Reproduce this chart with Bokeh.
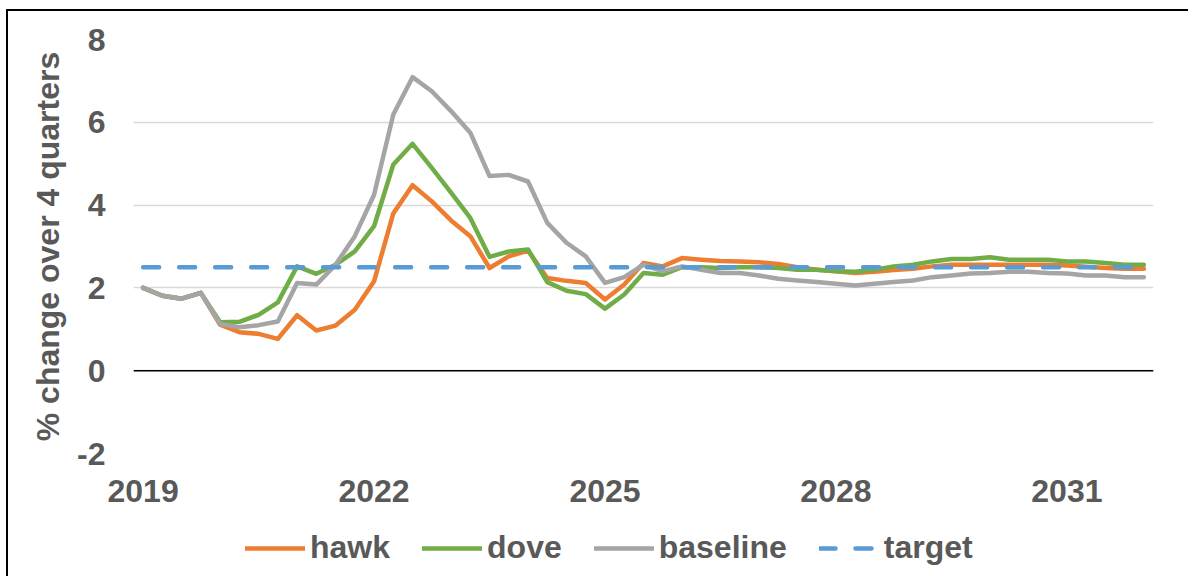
from bokeh.plotting import figure
from bokeh.layouts import column
from bokeh.models import Span, Legend, LegendItem, FixedTicker, ColumnDataSource, Range1d
from bokeh.embed import file_html
from bokeh.resources import INLINE

# ---------------- data ----------------
quarters = [f"{y}Q{q}" for y in range(2019, 2033) for q in range(1, 5)][:53]

hawk = [2.00, 1.81, 1.74, 1.88, 1.11, 0.93, 0.89, 0.77, 1.34, 0.97,
        1.09, 1.47, 2.16, 3.80, 4.48, 4.09, 3.63, 3.25, 2.48, 2.76,
        2.90, 2.24, 2.17, 2.12, 1.72, 2.08, 2.60, 2.52, 2.72, 2.68,
        2.65, 2.64, 2.62, 2.58, 2.50, 2.44, 2.40, 2.36, 2.39, 2.43,
        2.46, 2.52, 2.56, 2.56, 2.56, 2.56, 2.56, 2.56, 2.54, 2.51,
        2.48, 2.46, 2.46]

dove = [2.00, 1.81, 1.74, 1.88, 1.17, 1.18, 1.35, 1.65, 2.52, 2.34,
        2.56, 2.88, 3.49, 4.98, 5.48, 4.90, 4.30, 3.69, 2.75, 2.88,
        2.93, 2.14, 1.93, 1.85, 1.50, 1.84, 2.36, 2.32, 2.50, 2.50,
        2.48, 2.50, 2.50, 2.48, 2.44, 2.44, 2.40, 2.39, 2.44, 2.52,
        2.56, 2.64, 2.70, 2.70, 2.74, 2.68, 2.68, 2.68, 2.64, 2.64,
        2.60, 2.56, 2.56]

baseline = [2.00, 1.81, 1.74, 1.88, 1.13, 1.05, 1.10, 1.19, 2.12, 2.08,
            2.56, 3.25, 4.25, 6.19, 7.09, 6.75, 6.27, 5.75, 4.70, 4.73,
            4.57, 3.57, 3.09, 2.76, 2.12, 2.26, 2.56, 2.40, 2.52, 2.44,
            2.36, 2.36, 2.30, 2.22, 2.18, 2.14, 2.10, 2.06, 2.10, 2.14,
            2.18, 2.26, 2.30, 2.35, 2.36, 2.39, 2.39, 2.36, 2.35, 2.30,
            2.30, 2.26, 2.26]

target_value = 2.5
target = [target_value] * len(quarters)

series_names = ["hawk", "dove", "baseline", "target"]
series_colors = ["#ED7D31", "#70AD47", "#A5A5A5", "#5B9BD5"]

x_tick_labels = ["2019", "2022", "2025", "2028", "2031"]
y_ticks = [-2, 0, 2, 4, 6, 8]

# ---------------- styling ----------------
FONT = "Liberation Sans"
TXT = "#595959"
FS = "32px"
LW = 4.5
DASH = "16 20"

idx = list(range(len(quarters)))
src = ColumnDataSource(dict(x=idx, quarter=quarters, hawk=hawk, dove=dove,
                            baseline=baseline, target=target))

p = figure(width=1180, height=507, frame_width=1020, frame_height=414,
           output_backend="svg", toolbar_location=None,
           x_range=(-0.5, len(quarters) - 0.5), y_range=(-2, 8))
p.min_border_left = 125
p.min_border_right = 35
p.min_border_top = 28
p.min_border_bottom = 65
p.outline_line_color = None
p.background_fill_color = "white"
p.border_fill_color = "white"

# axes
x_tick_pos = [quarters.index(f"{t}Q1") for t in x_tick_labels]
p.xaxis.ticker = FixedTicker(ticks=x_tick_pos)
p.xaxis.major_label_overrides = {pos: lab for pos, lab in zip(x_tick_pos, x_tick_labels)}
p.yaxis.ticker = FixedTicker(ticks=y_ticks)
p.yaxis.major_label_overrides = {v: str(v) for v in y_ticks}

for ax in (p.xaxis[0], p.yaxis[0]):
    ax.axis_line_color = None
    ax.major_tick_line_color = None
    ax.minor_tick_line_color = None
    ax.major_label_text_font = FONT
    ax.major_label_text_font_size = FS
    ax.major_label_text_font_style = "bold"
    ax.major_label_text_color = TXT

p.xaxis.major_label_standoff = 20
p.yaxis.major_label_standoff = 22
p.yaxis.axis_label = "% change over 4 quarters"
p.yaxis.axis_label_text_font = FONT
p.yaxis.axis_label_text_font_size = FS
p.yaxis.axis_label_text_font_style = "bold"
p.yaxis.axis_label_text_color = TXT
p.yaxis.axis_label_standoff = 8

p.xgrid.grid_line_color = None
p.ygrid.grid_line_color = "#d9d9d9"
p.ygrid.grid_line_width = 1.5

p.add_layout(Span(location=0, dimension="width", line_color="black", line_width=1.5))

for name, color in zip(series_names, series_colors):
    kw = dict(line_dash=DASH) if name == "target" else dict(line_join="round")
    p.line("x", name, source=src, line_color=color, line_width=LW,
           line_cap="round", **kw)

# ---------------- legend strip ----------------
# same series drawn into a strip whose y-range excludes them: only the legend shows
lg = figure(width=1180, height=58, output_backend="svg", toolbar_location=None,
            x_range=Range1d(0, 1), y_range=Range1d(-20, -19))
lg.min_border_left = lg.min_border_right = lg.min_border_top = lg.min_border_bottom = 0
lg.axis.visible = False
lg.grid.visible = False
lg.outline_line_color = None
lg.background_fill_color = "white"
lg.border_fill_color = "white"

items = []
for name, color in zip(series_names, series_colors):
    kw = dict(line_dash=DASH) if name == "target" else {}
    r = lg.line("x", name, source=src, line_color=color, line_width=LW,
                line_cap="round", **kw)
    items.append(LegendItem(label=name, renderers=[r]))

legend = Legend(items=items, orientation="horizontal", location=(112, 10),
                glyph_width=60, glyph_height=20, label_standoff=5, spacing=32,
                label_text_font=FONT, label_text_font_size=FS,
                label_text_font_style="bold", label_text_color=TXT,
                border_line_color=None, background_fill_alpha=0,
                padding=0, margin=0)
lg.add_layout(legend, "center")

layout = column(p, lg, spacing=0)
layout.styles = {"border-top": "2px solid black", "border-left": "2px solid black",
                 "margin-top": "9px", "margin-left": "6px"}

open("out.html", "w").write(file_html(layout, INLINE))
